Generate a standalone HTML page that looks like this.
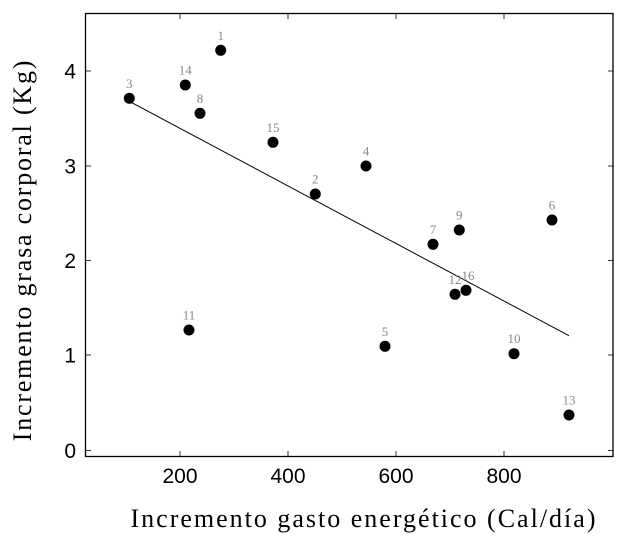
<!DOCTYPE html>
<html><head><meta charset="utf-8"><style>
html,body{margin:0;padding:0;background:#fff;}
svg{display:block;}
.t{font-family:"Liberation Sans",sans-serif;font-size:21px;fill:#000;}
.l{font-family:"Liberation Serif",serif;font-size:13px;fill:#888;}
.a{font-family:"Liberation Serif",serif;font-size:26px;fill:#000;letter-spacing:2px;}
.ay{font-family:"Liberation Serif",serif;font-size:26px;fill:#000;letter-spacing:1.8px;}
</style></head><body>
<svg width="628" height="536" viewBox="0 0 628 536" xmlns="http://www.w3.org/2000/svg">
<rect x="85.5" y="13.5" width="527.5" height="443" fill="none" stroke="#000" stroke-width="1.3"/>
<g stroke="#000" stroke-width="0.8">
<line x1="180" y1="456" x2="180" y2="451"/><line x1="288" y1="456" x2="288" y2="451"/><line x1="396" y1="456" x2="396" y2="451"/><line x1="504" y1="456" x2="504" y2="451"/>
<line x1="180" y1="14" x2="180" y2="19"/><line x1="288" y1="14" x2="288" y2="19"/><line x1="396" y1="14" x2="396" y2="19"/><line x1="504" y1="14" x2="504" y2="19"/>
<line x1="86" y1="450.5" x2="91" y2="450.5"/><line x1="86" y1="355" x2="91" y2="355"/><line x1="86" y1="260.5" x2="91" y2="260.5"/><line x1="86" y1="166" x2="91" y2="166"/><line x1="86" y1="71" x2="91" y2="71"/>
<line x1="613" y1="450.5" x2="608" y2="450.5"/><line x1="613" y1="355" x2="608" y2="355"/><line x1="613" y1="260.5" x2="608" y2="260.5"/><line x1="613" y1="166" x2="608" y2="166"/><line x1="613" y1="71" x2="608" y2="71"/>
</g>
<g class="t" text-anchor="middle">
<text x="180" y="483">200</text><text x="288" y="483">400</text><text x="396" y="483">600</text><text x="504" y="483">800</text>
</g>
<g class="t" text-anchor="end">
<text x="76" y="458">0</text><text x="76" y="362.5">1</text><text x="76" y="268">2</text><text x="76" y="173.5">3</text><text x="76" y="78.5">4</text>
</g>
<text class="a" x="364" y="527" text-anchor="middle">Incremento gasto energético (Cal/día)</text>
<text class="ay" transform="translate(31,250) rotate(-90)" text-anchor="middle">Incremento grasa corporal (Kg)</text>
<line x1="130" y1="101.7" x2="569" y2="335.7" stroke="#000" stroke-width="1"/>
<g fill="#000">
<circle cx="220.7" cy="50.3" r="5.5"/><circle cx="185.3" cy="85" r="5.5"/><circle cx="200" cy="113.3" r="5.5"/><circle cx="129.3" cy="98.3" r="5.5"/><circle cx="273" cy="142.3" r="5.5"/>
<circle cx="315.3" cy="194" r="5.5"/><circle cx="366" cy="166" r="5.5"/><circle cx="433" cy="244.3" r="5.5"/><circle cx="459.3" cy="230" r="5.5"/><circle cx="552" cy="220" r="5.5"/>
<circle cx="455" cy="294.3" r="5.5"/><circle cx="466" cy="290.3" r="5.5"/><circle cx="385" cy="346.3" r="5.5"/><circle cx="514" cy="353.7" r="5.5"/><circle cx="189" cy="330" r="5.5"/><circle cx="569" cy="415" r="5.5"/>
</g>
<g class="l" text-anchor="middle">
<text x="220.7" y="40">1</text><text x="185.3" y="74.5">14</text><text x="200" y="103">8</text><text x="129.3" y="88">3</text><text x="273" y="132">15</text>
<text x="315.3" y="183.5">2</text><text x="366" y="155.5">4</text><text x="433" y="234">7</text><text x="459.3" y="219.5">9</text><text x="552" y="209.5">6</text>
<text x="455" y="284">12</text><text x="468" y="280">16</text><text x="385" y="336">5</text><text x="514" y="343.2">10</text><text x="189" y="319.5">11</text><text x="569" y="404.5">13</text>
</g>
</svg>
</body></html>
